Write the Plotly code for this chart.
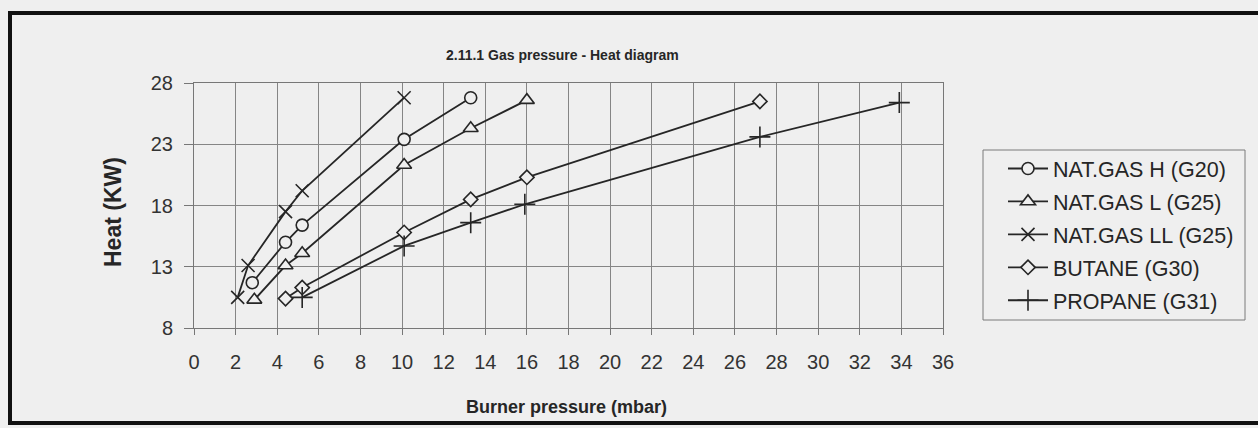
import plotly.graph_objects as go

# ---- data ----
h_x = [2.8, 4.4, 5.2, 10.1, 13.3]
h_y = [11.7, 15.0, 16.4, 23.4, 26.8]
l_x = [2.9, 4.4, 5.2, 10.1, 13.3, 16.0]
l_y = [10.3, 13.1, 14.1, 21.3, 24.3, 26.6]
ll_x = [2.1, 2.6, 4.4, 5.2, 10.1]
ll_y = [10.5, 13.1, 17.5, 19.2, 26.8]
bu_x = [4.4, 5.2, 10.1, 13.3, 16.0, 27.2]
bu_y = [10.4, 11.3, 15.8, 18.5, 20.3, 26.5]
pr_x = [5.2, 10.1, 13.3, 15.9, 27.2, 33.9]
pr_y = [10.5, 14.7, 16.6, 18.1, 23.6, 26.4]

names = ["NAT.GAS H (G20)", "NAT.GAS L (G25)", "NAT.GAS LL (G25)",
         "BUTANE (G30)", "PROPANE (G31)"]
x_ticks = list(range(0, 37, 2))
y_ticks = [8, 13, 18, 23, 28]

W, H = 1258, 428
L, R, T, B = 194, 315, 83, 100
BG = "#efefef"
INK = "#262626"
FONT = "Liberation Sans, Arial, sans-serif"

def px(xp):
    return (xp - L) / (W - L - R)

def py(yp):
    return (H - B - yp) / (H - T - B)

series = [
    (h_x, h_y, dict(symbol="circle", size=12)),
    (l_x, l_y, dict(symbol="triangle-up", size=13)),
    (ll_x, ll_y, dict(symbol="x-thin", size=13)),
    (bu_x, bu_y, dict(symbol="diamond", size=11)),
    (pr_x, pr_y, dict(symbol="cross-thin", size=15)),
]

fig = go.Figure()
for i, ((xs, ys, m), name) in enumerate(zip(series, names)):
    fig.add_trace(go.Scatter(
        x=xs, y=ys, name=name, mode="lines+markers", legendgroup=f"g{i}",
        line=dict(color=INK, width=1.8),
        marker=dict(symbol=m["symbol"], size=m["size"], color=BG,
                    line=dict(color=INK, width=1.6)),
    ))

fig.update_layout(
    width=W, height=H,
    margin=dict(l=L, r=R, t=T, b=B),
    paper_bgcolor=BG, plot_bgcolor=BG,
    font=dict(family=FONT, color=INK, size=19),
    showlegend=True,
    legend=dict(
        x=px(1003), y=py(148), xanchor="left", yanchor="top",
        bgcolor="rgba(0,0,0,0)", borderwidth=0,
        font=dict(size=21.5, family=FONT, color=INK),
        itemwidth=40, tracegroupgap=2,
    ),
    xaxis=dict(
        range=[0, 36], tickvals=x_ticks, ticks="outside", ticklen=6,
        tickcolor="#777", showgrid=True, gridcolor="#858585", gridwidth=1,
        showline=True, linecolor="#777", linewidth=1, mirror=True,
        zeroline=False, ticklabelstandoff=10,
        tickfont=dict(size=20, color="#333"),
    ),
    yaxis=dict(
        range=[8, 28], tickvals=y_ticks, ticks="outside", ticklen=9,
        tickcolor="#777", showgrid=True, gridcolor="#858585", gridwidth=1,
        showline=True, linecolor="#777", linewidth=1, mirror=True,
        zeroline=False, ticklabelstandoff=7,
        tickfont=dict(size=20, color="#333"),
    ),
)

fig.add_annotation(text="<b>2.11.1 Gas pressure - Heat diagram</b>",
                   x=px(562), y=py(55), xref="paper", yref="paper",
                   xanchor="center", yanchor="middle",
                   showarrow=False, font=dict(size=14, family=FONT, color=INK))
fig.add_annotation(text="<b>Burner pressure (mbar)</b>",
                   x=px(566), y=py(407), xref="paper", yref="paper",
                   xanchor="center", yanchor="middle",
                   showarrow=False, font=dict(size=18, family=FONT, color=INK))
fig.add_annotation(text="<b>Heat (KW)</b>", textangle=-90,
                   x=px(113), y=py(212), xref="paper", yref="paper",
                   xanchor="center", yanchor="middle",
                   showarrow=False, font=dict(size=23, family=FONT, color=INK))

# legend box
fig.add_shape(type="rect", xref="paper", yref="paper",
              x0=px(983), x1=px(1245), y0=py(320), y1=py(150),
              line=dict(color="#7a7a7a", width=1))
# outer frame
fig.add_shape(type="rect", xref="paper", yref="paper",
              x0=px(10), x1=px(1275), y0=py(423), y1=py(13),
              line=dict(color="#111", width=4), layer="above")

fig.write_html(
    "out.html",
    config={"displayModeBar": False},
    post_script=("document.body.style.margin='0';"
                 "document.body.style.background='#efefef';"
                 "document.documentElement.style.overflow='hidden';"),
)
